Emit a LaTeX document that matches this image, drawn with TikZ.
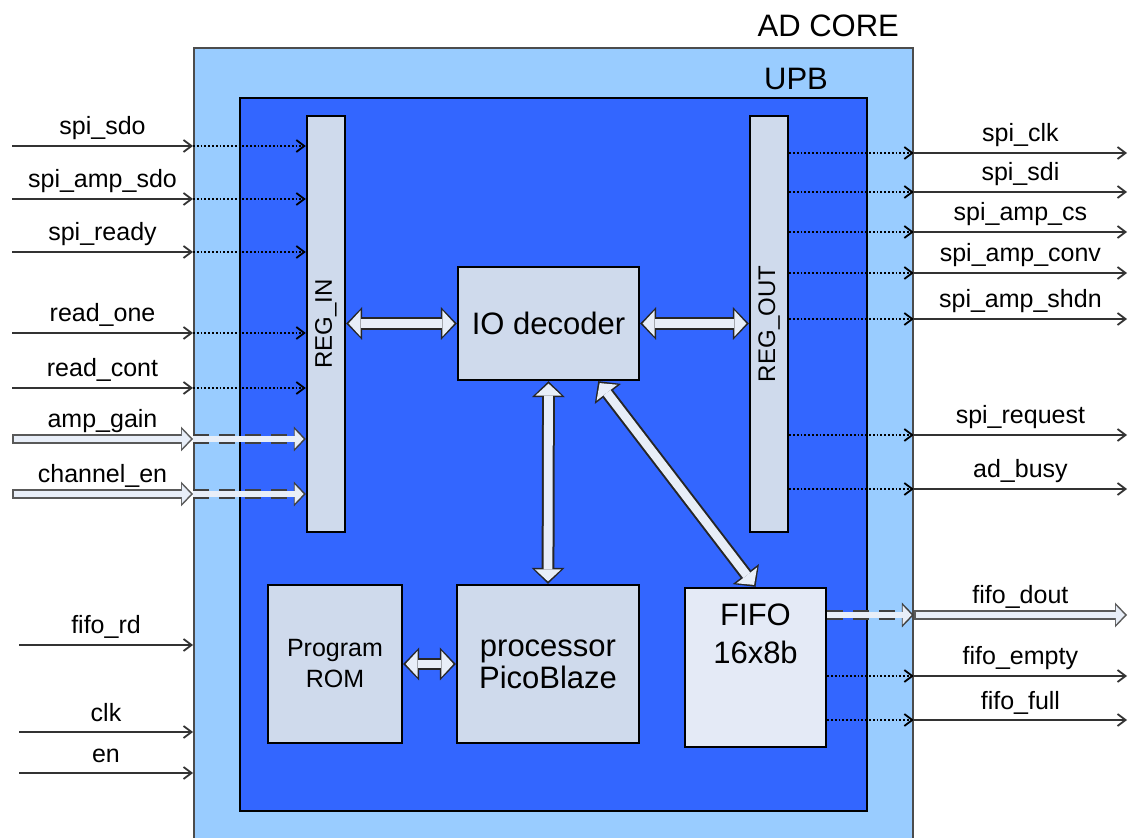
\documentclass[tikz,border=0pt]{standalone}
\usepackage{fontspec}
\setmainfont{Liberation Sans}
\usetikzlibrary{arrows.meta,calc}

\definecolor{corefill}{HTML}{99CCFF}
\definecolor{upbfill}{HTML}{3366FF}
\definecolor{blockfill}{HTML}{CFDAEC}
\definecolor{fifofill}{HTML}{E4EAF6}
\definecolor{arrfill}{HTML}{E8EEF8}

\tikzset{
  blk/.style={draw=black, line width=1.2pt, fill=blockfill, inner sep=0pt, align=center},
  sig/.style={draw=black!80, line width=0.9pt, -{Straight Barb[length=4pt,width=6pt]}},
  sigdot/.style={sig, draw=black, densely dotted},
  lbl/.style={font=\fontsize{12.5}{15}\selectfont, anchor=base, yshift=5.5pt},
  % white block arrow with dark outline
  biga/.style={draw=arrfill, line width=4.4pt,
    {Triangle[width=13pt,length=6pt,line width=0pt]}-{Triangle[width=13pt,length=6pt,line width=0pt]},
    shorten <=1.2pt, shorten >=1.2pt,
    preaction={draw=black!85, line width=6.4pt, shorten <=0pt, shorten >=0pt,
      arrows={Triangle[width=16.5pt,length=8pt,line width=0pt]}-{Triangle[width=16.5pt,length=8pt,line width=0pt]}}},
  % data bus outside the core
  bus/.style={draw=arrfill, line width=3pt, shorten <=0.9pt, shorten >=1.1pt,
    arrows=-{Triangle[width=9.5pt,length=4.5pt,line width=0pt]},
    preaction={draw=black!65, line width=4.8pt, shorten <=0pt, shorten >=0pt,
      arrows=-{Triangle[width=12.5pt,length=6pt,line width=0pt]}}},
  % data bus inside the core
  busin/.style={draw=arrfill, line width=3pt, shorten >=1.1pt,
    arrows=-{Triangle[width=9.5pt,length=4.5pt,line width=0pt]},
    preaction={draw=black!75, line width=4.8pt, dash pattern=on 8pt off 5pt, shorten >=0pt,
      arrows=-{Triangle[width=12.5pt,length=6pt,line width=0pt]}}}
}

\begin{document}
\begin{tikzpicture}[x=0.5pt,y=-0.5pt]
  \useasboundingbox (0,0) rectangle (1129,838);

  % core and UPB frames
  \node[draw=black!70, line width=0.9pt, fill=corefill, minimum width=359.5pt, minimum height=420pt,
    anchor=north west, inner sep=0pt] (core) at (193,47) {};
  \node[anchor=base east, font=\fontsize{15.5}{18}\selectfont] at (906,37) {AD CORE};
  \node[draw=black, line width=1pt, fill=upbfill, minimum width=313.5pt, minimum height=356.5pt,
    anchor=north west, inner sep=0pt] (upb) at (239,97) {};
  \node[anchor=base, font=\fontsize{15.5}{18}\selectfont] at (796,90) {UPB};

  % blocks
  \node[blk, minimum width=19pt, minimum height=208pt,
    label={[rotate=90, font=\fontsize{12}{14}\selectfont]center:REG\_IN}] (regin) at (326,324) {};
  \node[blk, minimum width=19pt, minimum height=208pt,
    label={[rotate=90, font=\fontsize{12}{14}\selectfont]center:REG\_OUT}] (regout) at (769,324) {};
  \node[blk, minimum width=90.5pt, minimum height=56.5pt, font=\fontsize{15.5}{18}\selectfont] (io) at (548.5,323.5) {IO decoder};
  \node[blk, minimum width=67pt, minimum height=79pt, font=\fontsize{12.5}{15.5}\selectfont] (rom) at (335,664) {Program\\ROM};
  \node[blk, minimum width=91pt, minimum height=79pt, font=\fontsize{15.5}{16}\selectfont] (pico) at (548,664) {processor\\PicoBlaze};
  \node[blk, fill=fifofill, minimum width=70.5pt, minimum height=79.5pt,
    label={[anchor=north, align=center, yshift=-5pt, font=\fontsize{15.5}{19}\selectfont]north:FIFO\\16x8b}] (fifo) at (755.5,667.5) {};

  % internal block arrows
  \draw[biga] (io.west -| regin.east) -- (io.west);
  \draw[biga] (io.east) -- (io.east -| regout.west);
  \draw[biga] (io.south) -- (pico.north);
  \draw[biga] ($(io.south east)+(-42,0)$) -- (fifo.north);
  \draw[biga] (rom.east) -- (pico.west);

  % inputs
  \foreach \y/\txt in {146/spi\_sdo, 199/spi\_amp\_sdo, 252/spi\_ready, 333/read\_one, 388/read\_cont}{
    \coordinate (src) at (12,\y);
    \draw[sig] (src) -- (src -| core.west) node[lbl,midway] {\txt};
    \draw[sigdot] (src -| core.west) -- (src -| regin.west);
  }
  \foreach \y/\txt in {439/amp\_gain, 494/channel\_en}{
    \coordinate (src) at (12,\y);
    \draw[bus] (src) -- (src -| core.west) node[lbl,midway] {\txt};
    \draw[busin] (src -| core.west) -- (src -| regin.west);
  }
  \foreach \y/\txt in {645/fifo\_rd, 732/clk, 773/en}{
    \coordinate (src) at (19,\y);
    \draw[sig] (src) -- (src -| core.west) node[lbl,midway] {\txt};
  }

  % outputs
  \foreach \y/\txt in {153/spi\_clk, 192/spi\_sdi, 232/spi\_amp\_cs, 273/spi\_amp\_conv,
                       319/spi\_amp\_shdn, 435/spi\_request, 489/ad\_busy}{
    \coordinate (dst) at (1127,\y);
    \draw[sigdot] (dst -| regout.east) -- (dst -| core.east);
    \draw[sig] (dst -| core.east) -- (dst) node[lbl,midway] {\txt};
  }
  \coordinate (dout) at (1127,615);
  \draw[busin] (dout -| fifo.east) -- (dout -| core.east);
  \draw[bus] (dout -| core.east) -- (dout) node[lbl,midway] {fifo\_dout};
  \foreach \y/\txt in {676/fifo\_empty, 720/fifo\_full}{
    \coordinate (dst) at (1127,\y);
    \draw[sigdot] (dst -| fifo.east) -- (dst -| core.east);
    \draw[sig] (dst -| core.east) -- (dst) node[lbl,midway] {\txt};
  }
\end{tikzpicture}
\end{document}
